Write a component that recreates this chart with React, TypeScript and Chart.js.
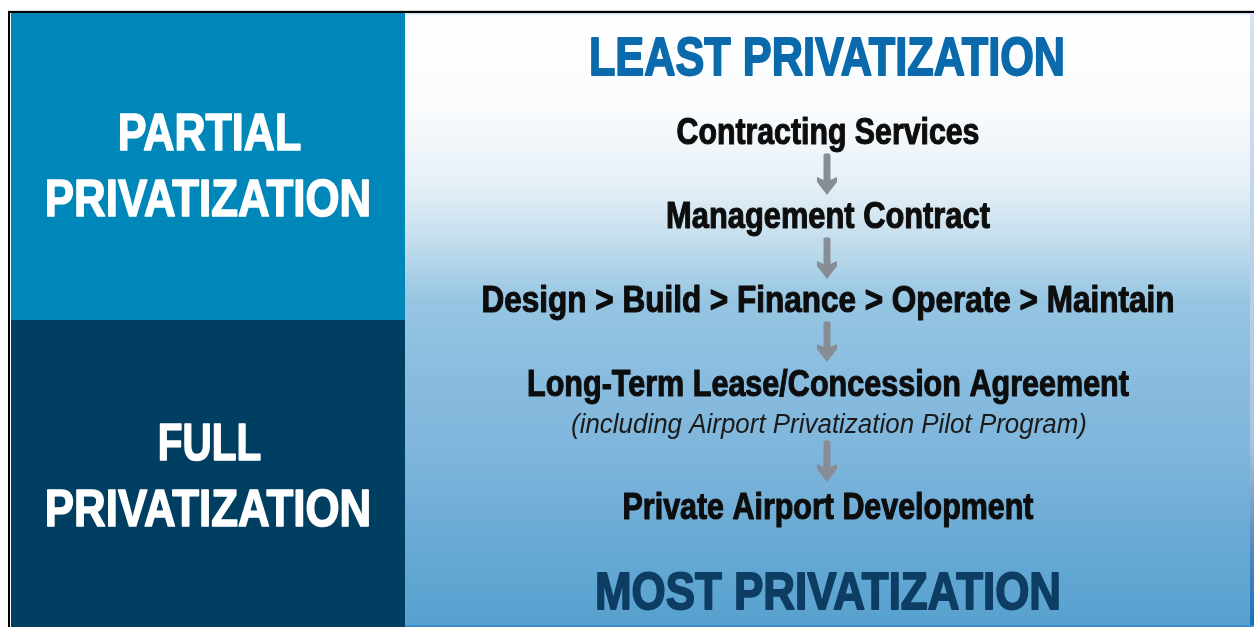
import React, { useEffect, useRef } from "react";
import { Chart, registerables } from "chart.js";

Chart.register(...registerables);

// ---- content ----
const sideLabels: string[][] = [
  ["PARTIAL", "PRIVATIZATION"],
  ["FULL", "PRIVATIZATION"],
];
const headerLabel = "LEAST PRIVATIZATION";
const footerLabel = "MOST PRIVATIZATION";
const stepLabels: string[] = [
  "Contracting Services",
  "Management Contract",
  "Design > Build > Finance > Operate > Maintain",
  "Long-Term Lease/Concession Agreement",
  "Private Airport Development",
];
const stepNotes: string[] = ["", "", "", "(including Airport Privatization Pilot Program)", ""];

// ---- layout (pixel-space values on the hidden 0..1254 / 0..627 scales) ----
const W = 1254;
const H = 627;
const stepCenterX = 828;
const stepBaselines = [143.5, 227.5, 311.5, 395.5, 518.5];
const stepWidths = [304, 325, 694, 603, 412];
const noteBaselines = [0, 0, 0, 433, 0];
const noteWidths = [0, 0, 0, 516, 0];
const arrowSpans = [
  [153, 195],
  [237, 279],
  [321, 362],
  [440, 482],
];

const BOLD = "'Liberation Sans Narrow', 'Liberation Sans', Arial, sans-serif";

export default function App() {
  const ref = useRef<HTMLCanvasElement | null>(null);

  useEffect(() => {
    document.body.style.margin = "0";
    const canvas = ref.current!;

    const fitText = (
      ctx: CanvasRenderingContext2D,
      text: string,
      cx: number,
      baseline: number,
      width: number,
      font: string,
      color: string,
      stroke: number
    ) => {
      ctx.save();
      ctx.font = font;
      const m = ctx.measureText(text).width || 1;
      ctx.translate(cx, baseline);
      ctx.scale((width - stroke) / m, 1);
      ctx.textAlign = "center";
      ctx.textBaseline = "alphabetic";
      ctx.fillStyle = color;
      ctx.fillText(text, 0, 0);
      if (stroke > 0) {
        ctx.strokeStyle = color;
        ctx.lineWidth = stroke;
        ctx.lineJoin = "round";
        ctx.strokeText(text, 0, 0);
      }
      ctx.restore();
    };

    const diagram = {
      id: "diagram",
      beforeDatasetsDraw(chart: any) {
        const ctx: CanvasRenderingContext2D = chart.ctx;
        const xs = chart.scales.x;
        const ys = chart.scales.y;
        const px = (v: number) => xs.getPixelForValue(v);
        const py = (v: number) => ys.getPixelForValue(v);

        ctx.save();
        ctx.fillStyle = "#ffffff";
        ctx.fillRect(0, 0, W, H);

        // right gradient panel
        const g = ctx.createLinearGradient(0, py(13), 0, py(627));
        g.addColorStop(0, "#ffffff");
        g.addColorStop(0.16, "#f9fbfd");
        g.addColorStop(0.28, "#e6f0f7");
        g.addColorStop(0.38, "#c0dbec");
        g.addColorStop(0.47, "#95c5e2");
        g.addColorStop(0.6, "#88bcdf");
        g.addColorStop(0.72, "#7eb5db");
        g.addColorStop(0.86, "#69aad5");
        g.addColorStop(1, "#56a1cf");
        ctx.fillStyle = g;
        ctx.fillRect(px(405), py(13), px(1250) - px(405), py(627) - py(13));
        ctx.fillStyle = "#dde9f6";
        ctx.fillRect(px(405), py(13), px(1254) - px(405), 2);
        const g2 = ctx.createLinearGradient(0, py(13), 0, py(627));
        g2.addColorStop(0, "#d4e3f5");
        g2.addColorStop(0.7, "#a9c4e2");
        g2.addColorStop(0.85, "#5f8fc4");
        g2.addColorStop(1, "#1470b6");
        ctx.fillStyle = g2;
        ctx.fillRect(px(1250), py(13), px(1254) - px(1250), py(627) - py(13));
        ctx.fillStyle = "#3d8cc6";
        ctx.fillRect(px(405), py(625), px(1254) - px(405), 2);

        // left panels
        ctx.fillStyle = "#0087ba";
        ctx.fillRect(px(11), py(13), px(405) - px(11), py(320) - py(13));
        ctx.fillStyle = "#003e62";
        ctx.fillRect(px(11), py(320), px(405) - px(11), py(627) - py(320));

        // borders
        ctx.fillStyle = "#d8d8d8";
        ctx.fillRect(px(8), py(10), px(1254) - px(8), 1);
        ctx.fillStyle = "#000000";
        ctx.fillRect(px(8), py(11), px(1254) - px(8), 2);
        ctx.fillRect(px(8), py(11), 2, py(627) - py(11));

        // side labels
        fitText(ctx, sideLabels[0][0], 209.5, 150, 185, `bold 52px ${BOLD}`, "#ffffff", 1.6);
        fitText(ctx, sideLabels[0][1], 208, 216, 328, `bold 52px ${BOLD}`, "#ffffff", 1.6);
        fitText(ctx, sideLabels[1][0], 209.5, 460, 105, `bold 52px ${BOLD}`, "#ffffff", 1.6);
        fitText(ctx, sideLabels[1][1], 208, 526, 328, `bold 52px ${BOLD}`, "#ffffff", 1.6);

        // header / footer
        fitText(ctx, headerLabel, px(827), py(75), 478, `bold 53px ${BOLD}`, "#0a6aab", 1.8);
        fitText(ctx, footerLabel, px(828), py(609), 468, `bold 52px ${BOLD}`, "#0d3d62", 1.8);

        // arrows
        ctx.fillStyle = "#878d94";
        arrowSpans.forEach(([a, b]) => {
          const cx = px(stepCenterX - 1);
          const top = py(a);
          const bot = py(b);
          const headH = 18;
          ctx.beginPath();
          ctx.moveTo(cx - 3.5, top + 1.5);
          ctx.quadraticCurveTo(cx, top - 1, cx + 3.5, top + 1.5);
          ctx.lineTo(cx + 3.5, bot - headH + 3);
          ctx.lineTo(cx + 10, bot - headH);
          ctx.lineTo(cx + 10, bot - headH + 5);
          ctx.lineTo(cx, bot);
          ctx.lineTo(cx - 10, bot - headH + 5);
          ctx.lineTo(cx - 10, bot - headH);
          ctx.lineTo(cx - 3.5, bot - headH + 3);
          ctx.closePath();
          ctx.fill();
        });
        ctx.restore();
      },
      afterDatasetsDraw(chart: any) {
        const ctx: CanvasRenderingContext2D = chart.ctx;
        const meta = chart.getDatasetMeta(0);
        meta.data.forEach((pt: any, i: number) => {
          fitText(ctx, stepLabels[i], pt.x, pt.y, stepWidths[i], `bold 36px ${BOLD}`, "#0d0d0d", 1.1);
          if (stepNotes[i]) {
            fitText(
              ctx,
              stepNotes[i],
              pt.x + 1,
              chart.scales.y.getPixelForValue(noteBaselines[i]),
              noteWidths[i],
              `italic 27px ${BOLD}`,
              "#1a1a1a",
              0
            );
          }
        });
      },
    };

    const chart = new Chart(canvas, {
      type: "scatter",
      data: {
        datasets: [
          {
            label: "steps",
            data: stepLabels.map((_, i) => ({ x: stepCenterX, y: stepBaselines[i] })),
            pointRadius: 0,
            pointHoverRadius: 0,
          },
        ],
      },
      options: {
        animation: false,
        responsive: false,
        devicePixelRatio: 1,
        layout: { padding: 0 },
        events: [],
        plugins: { legend: { display: false }, tooltip: { enabled: false } },
        scales: {
          x: { type: "linear", min: 0, max: W, display: false },
          y: { type: "linear", min: 0, max: H, reverse: true, display: false },
        },
      },
      plugins: [diagram],
    });
    return () => chart.destroy();
  }, []);

  return (
    <div style={{ width: W, height: H, position: "relative" }}>
      <canvas ref={ref} width={W} height={H} style={{ display: "block", width: W, height: H }} />
    </div>
  );
}
